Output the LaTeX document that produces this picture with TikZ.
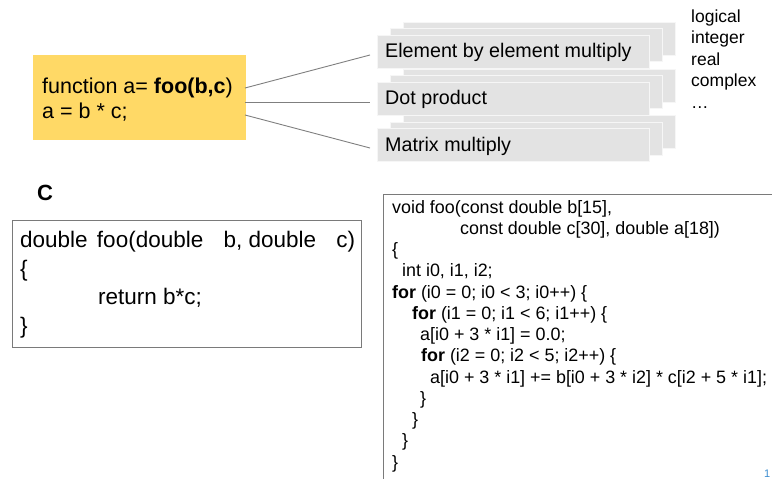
\documentclass[tikz,border=0pt]{standalone}
\usepackage{fontspec}
\setmainfont{Liberation Sans}
\definecolor{fnyellow}{HTML}{FFD966}
\definecolor{stackgray}{HTML}{E3E3E3}
\definecolor{stackedge}{HTML}{F6F6F6}
\definecolor{linkgray}{HTML}{7F7F7F}
\definecolor{codeedge}{HTML}{7A7A7A}
\definecolor{pageblue}{HTML}{3C8DD0}
\begin{document}
\begin{tikzpicture}[x=1pt,y=-1pt,
  stacklayer/.style={draw=stackedge, fill=stackgray, line width=0.8pt,
    minimum width=272pt, minimum height=33pt, inner sep=0pt},
  boxtext/.style={anchor=base west, inner sep=0pt, font=\fontsize{19.7}{22}\selectfont},
  fntext/.style={anchor=base west, inner sep=0pt, font=\fontsize{21.5}{24}\selectfont},
  typetext/.style={anchor=base west, inner sep=0pt, font=\fontsize{17.5}{20}\selectfont},
  ctext/.style={anchor=base west, inner sep=0pt, font=\fontsize{22.5}{26}\selectfont},
  codetext/.style={anchor=base west, inner sep=0pt, font=\fontsize{17.9}{20}\selectfont},
  link/.style={draw=linkgray, line width=0.9pt},
  codebox/.style={draw=codeedge, line width=0.9pt, inner sep=0pt}]
\useasboundingbox (0,0) rectangle (772,479);

% yellow function box
\node[fill=fnyellow, minimum width=213pt, minimum height=85pt, inner sep=0pt] (fn) at (139.5,97.5) {};
\node[fntext] (fnl1) at (42,93) {function a= \textbf{foo(b,c})};
\node[fntext] (fnl2) at (42,118) {a = b * c;};

% stacked boxes
\node[stacklayer] (elemC) at (539,38.5) {};
\node[stacklayer] (elemB) at (526,45) {};
\node[stacklayer] (elemA) at (513,51.5) {};
\node[boxtext] (elemT) at (385,57.5) {Element by element multiply};

\node[stacklayer] (dotC) at (539,85.5) {};
\node[stacklayer] (dotB) at (526,92) {};
\node[stacklayer] (dotA) at (513,98.5) {};
\node[boxtext] (dotT) at (385,104.5) {Dot product};

\node[stacklayer] (matC) at (539,132) {};
\node[stacklayer] (matB) at (526,138.5) {};
\node[stacklayer] (matA) at (513,145) {};
\node[boxtext] (matT) at (385,151) {Matrix multiply};

% connectors
\coordinate (s1) at (245,88);
\coordinate (s2) at (245,102);
\coordinate (s3) at (245,115);
\coordinate (e1) at (370,55);
\coordinate (e2) at (370,102);
\coordinate (e3) at (370,148);
\draw[link] (s1) -- (e1);
\draw[link] (s2) -- (e2);
\draw[link] (s3) -- (e3);

% type list
\node[typetext] (t1) at (691,22) {logical};
\node[typetext] (t2) at (691,43.5) {integer};
\node[typetext] (t3) at (691,65) {real};
\node[typetext] (t4) at (691,86.5) {complex};
\node[typetext] (t5) at (691,108) {…};

% C label and box
\node[inner sep=0pt, font=\fontsize{22}{26}\selectfont\bfseries] (clabel) at (45,193) {C};
\node[codebox, minimum width=349pt, minimum height=127pt] (cbox) at (186.5,283.5) {};
\node[ctext] (c1) at (20,247) {double\hspace{3pt} foo(double\hspace{14pt} b, double\hspace{14pt} c)};
\node[ctext] (c2) at (20,276) {\{};
\node[ctext] (c3) at (98,304) {return b*c;};
\node[ctext] (c4) at (20,333) {\}};

% generated code box
\node[codebox, minimum width=407pt, minimum height=306pt] (gbox) at (586.5,347.5) {};
\node[codetext] (g1) at (392,213) {void foo(const double b[15],};
\node[codetext] (g2) at (460,234.25) {const double c[30], double a[18])};
\node[codetext] (g3) at (392,255.5) {\{};
\node[codetext] (g4) at (402,276.75) {int i0, i1, i2;};
\node[codetext] (g5) at (392,298) {\textbf{for} (i0 = 0; i0 < 3; i0++) \{};
\node[codetext] (g6) at (412,319.25) {\textbf{for} (i1 = 0; i1 < 6; i1++) \{};
\node[codetext] (g7) at (420,340.5) {a[i0 + 3 * i1] = 0.0;};
\node[codetext] (g8) at (421,361.75) {\textbf{for} (i2 = 0; i2 < 5; i2++) \{};
\node[codetext] (g9) at (430,383) {a[i0 + 3 * i1] += b[i0 + 3 * i2] * c[i2 + 5 * i1];};
\node[codetext] (g10) at (420,404.25) {\}};
\node[codetext] (g11) at (412,425.5) {\}};
\node[codetext] (g12) at (402,446.75) {\}};
\node[codetext] (g13) at (392,468) {\}};

% page number
\node[anchor=base west, inner sep=0pt, text=pageblue, font=\fontsize{11}{13}\selectfont] (page) at (764,477) {1};
\end{tikzpicture}
\end{document}
